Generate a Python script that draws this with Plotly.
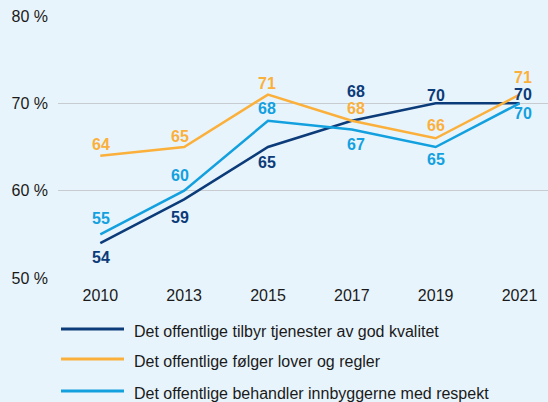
import plotly.graph_objects as go

# Survey results, share agreeing (%)
years = ["2010", "2013", "2015", "2017", "2019", "2021"]
kvalitet = [54, 59, 65, 68, 70, 70]
lover = [64, 65, 71, 68, 66, 71]
respekt = [55, 60, 68, 67, 65, 70]

series_names = [
    "Det offentlige tilbyr tjenester av god kvalitet",
    "Det offentlige følger lover og regler",
    "Det offentlige behandler innbyggerne med respekt",
]
y_tick_values = [50, 60, 70, 80]
y_tick_labels = ["50 %", "60 %", "70 %", "80 %"]

# Styling
colors = ["#0c3b79", "#fbb03b", "#12a0df"]
bg = "#e8f4fc"
font_family = "Liberation Sans, Arial, Helvetica, sans-serif"

# Vertical offset (px) of each value label relative to its point
label_yshift = [
    [-14, -18, -15, 29, 8, 9],
    [11.5, 11, 11.5, 12, 13, 17],
    [15.5, 15, 12, -14.5, -12, -10],
]
label_xshift = [1, -4, -1, 4.5, 0, 3.5]

W, H = 548, 402
ML, MR, MT, MB = 58, 0, 16, 124
plot_w = W - ML - MR
plot_h = H - MT - MB

series = [kvalitet, lover, respekt]
x_idx = list(range(len(years)))

fig = go.Figure()
for name, vals, col in zip(series_names, series, colors):
    fig.add_trace(go.Scatter(
        x=x_idx, y=vals, mode="lines", name=name,
        line=dict(color=col, width=2.5), showlegend=False,
    ))

annotations = []
for vals, col, shifts in zip(series, colors, label_yshift):
    for i, v in enumerate(vals):
        annotations.append(dict(
            x=i, y=v, xref="x", yref="y", text=str(v), showarrow=False,
            xanchor="center", yanchor="middle",
            xshift=label_xshift[i], yshift=shifts[i],
            font=dict(family=font_family, size=16, color=col, weight="bold"),
        ))


def px_to_paper_x(px):
    return (px - ML) / plot_w


def px_to_paper_y(py):
    return (H - MB - py) / plot_h


# Legend drawn below the plot: a swatch line and a label per series
legend_rows = [329, 359, 391]
shapes = []
for name, col, row in zip(series_names, colors, legend_rows):
    shapes.append(dict(
        type="line", xref="paper", yref="paper",
        x0=px_to_paper_x(61), x1=px_to_paper_x(124),
        y0=px_to_paper_y(row), y1=px_to_paper_y(row),
        line=dict(color=col, width=3),
    ))
    annotations.append(dict(
        x=px_to_paper_x(132), y=px_to_paper_y(row + 2), xref="paper", yref="paper",
        text=name, showarrow=False, xanchor="left", yanchor="middle",
        font=dict(family=font_family, size=16, color="#1a1a1a"),
    ))

spacing = 83.84
x0 = -42.3 / spacing
fig.update_layout(
    width=W, height=H,
    margin=dict(l=ML, r=MR, t=MT, b=MB, pad=0),
    paper_bgcolor=bg, plot_bgcolor=bg,
    font=dict(family=font_family, size=16, color="#1a1a1a"),
    xaxis=dict(
        range=[x0, x0 + plot_w / spacing],
        tickmode="array", tickvals=x_idx, ticktext=years,
        showgrid=False, zeroline=False, showline=False, ticks="",
        ticklabelstandoff=6,
    ),
    yaxis=dict(
        range=[50, 80],
        tickmode="array", tickvals=y_tick_values, ticktext=y_tick_labels,
        showgrid=True, gridcolor="#c8ccd0", gridwidth=1,
        zeroline=False, showline=False, ticks="",
        ticklabelstandoff=9,
    ),
    annotations=annotations,
    shapes=shapes,
    showlegend=False,
)

fig.write_html("out.html")
